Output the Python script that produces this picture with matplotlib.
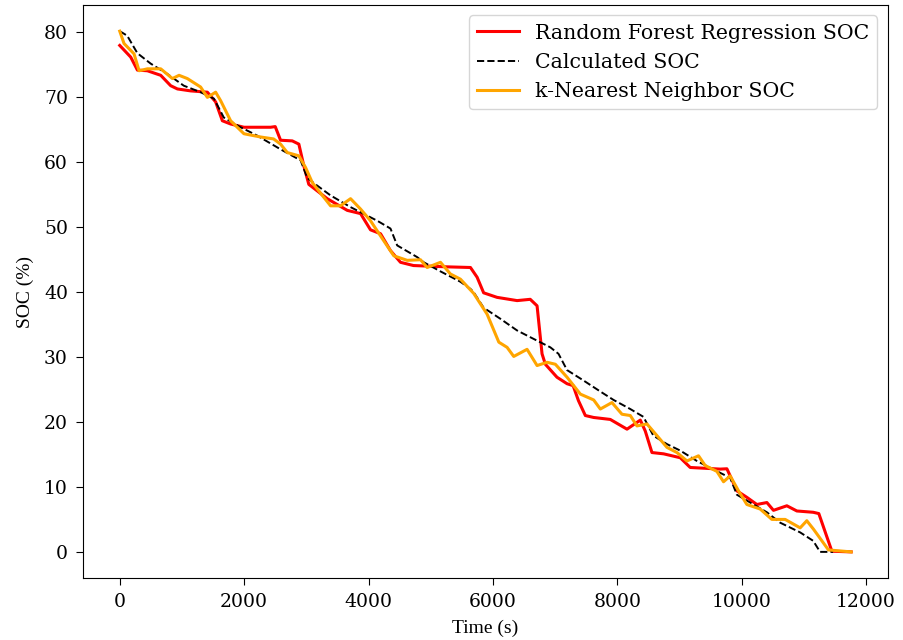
import matplotlib
matplotlib.use('Agg')
import matplotlib.pyplot as plt

# Calculated SOC (dashed reference)
calc_t = [0, 120, 284, 498, 766, 1030, 1300, 1515, 1673, 1944, 2212, 2586, 2908, 3015,
          3120, 3390, 3711, 4140, 4353, 4461, 4782, 4888, 5157, 5478, 5639, 5690, 5851,
          6120, 6389, 6655, 6924, 7055, 7192, 7456, 7727, 7940, 8209, 8420, 8580, 8798,
          9012, 9280, 9545, 9815, 9923, 10137, 10405, 10618, 10940, 11150, 11260, 11470]
calc_soc = [80.2, 79.5, 76.8, 75.2, 73.6, 71.8, 70.8, 69.8, 66.9, 65.4, 64.1, 62.0, 60.3, 57.6,
            56.8, 54.9, 53.1, 51.0, 49.8, 47.2, 45.4, 44.6, 43.2, 41.6, 40.5, 40.0, 37.6,
            35.9, 34.1, 32.8, 31.5, 30.5, 28.0, 26.4, 24.7, 23.4, 22.0, 20.8, 17.9, 16.6,
            15.6, 14.0, 12.7, 11.4, 8.8, 7.6, 6.1, 4.5, 3.0, 1.7, 0.0, 0.0]

# Random Forest Regression SOC
rf_t = [0, 177, 284, 445, 659, 819, 927, 1140, 1409, 1542, 1650, 1783, 1997, 2426, 2500,
        2586, 2774, 2880, 2961, 3040, 3095, 3336, 3658, 3872, 4032, 4193, 4353, 4514,
        4723, 5264, 5639, 5746, 5851, 6067, 6389, 6600, 6710, 6790, 6843, 7030, 7192,
        7290, 7375, 7486, 7620, 7887, 8156, 8370, 8450, 8557, 8745, 9012, 9172, 9655,
        9762, 9815, 9923, 10083, 10244, 10405, 10511, 10726, 10887, 11150, 11240,
        11450, 11760]
rf_soc = [78.0, 76.2, 74.2, 74.1, 73.4, 71.8, 71.3, 71.0, 70.8, 69.3, 66.4, 65.9, 65.4, 65.4, 65.5,
          63.4, 63.3, 62.8, 59.4, 56.6, 56.2, 54.4, 52.6, 52.1, 49.6, 49.0, 46.4, 44.6,
          44.1, 43.9, 43.8, 42.3, 39.9, 39.2, 38.7, 38.9, 37.9, 30.5, 28.9, 26.9, 25.9,
          25.6, 23.3, 21.0, 20.7, 20.4, 18.9, 20.3, 18.6, 15.3, 15.1, 14.5, 13.0, 12.75,
          12.8, 11.7, 9.4, 8.4, 7.3, 7.6, 6.4, 7.1, 6.3, 6.1, 5.9,
          0.1, 0.0]

# k-Nearest Neighbor SOC
knn_t = [0, 69, 230, 311, 445, 659, 847, 954, 1087, 1300, 1409, 1542, 1622, 1783, 1997,
         2265, 2474, 2586, 2694, 2880, 2988, 3095, 3282, 3390, 3550, 3711, 3872, 4032,
         4246, 4407, 4622, 4835, 4943, 5157, 5317, 5478, 5692, 5907, 6095, 6228, 6335,
         6549, 6710, 6871, 7004, 7192, 7406, 7620, 7727, 7914, 8075, 8209, 8316, 8477,
         8638, 8798, 8959, 9120, 9306, 9413, 9601, 9708, 9815, 9949, 10083, 10297,
         10485, 10699, 10940, 11047, 11154, 11395, 11760]
knn_soc = [80.2, 78.3, 76.7, 74.1, 74.4, 74.4, 72.9, 73.4, 72.9, 71.6, 70.0, 70.8, 69.5, 66.4, 64.4,
           63.9, 63.6, 62.8, 61.5, 61.0, 59.2, 56.9, 54.6, 53.3, 53.3, 54.4, 52.8, 51.0,
           47.9, 45.6, 44.9, 45.0, 43.8, 44.6, 42.8, 42.0, 39.8, 36.6, 32.3, 31.5, 30.1,
           31.2, 28.7, 29.2, 28.9, 26.9, 24.3, 23.4, 22.0, 23.0, 21.2, 21.0, 19.4, 19.7,
           17.9, 16.1, 15.3, 14.0, 14.8, 13.3, 12.4, 10.8, 11.7, 9.4, 7.3, 6.6,
           5.0, 5.0, 3.7, 4.8, 3.5, 0.3, 0.0]

fig, ax = plt.subplots(figsize=(9.04, 6.4), dpi=100)
fig.subplots_adjust(left=0.092, right=0.982, top=0.992, bottom=0.097)

ax.plot(rf_t, rf_soc, color='red', linewidth=2.2, label='Random Forest Regression SOC')
ax.plot(calc_t, calc_soc, color='black', linestyle='--', linewidth=1.4, label='Calculated SOC')
ax.plot(knn_t, knn_soc, color='orange', linewidth=2.2, label='k-Nearest Neighbor SOC')

ax.set_xticks([0, 2000, 4000, 6000, 8000, 10000, 12000])
ax.set_yticks([0, 10, 20, 30, 40, 50, 60, 70, 80])
ax.tick_params(length=5, pad=6)
for lbl in ax.get_xticklabels() + ax.get_yticklabels():
    lbl.set_fontfamily('DejaVu Serif')
    lbl.set_fontsize(13.5)

ax.set_xlabel('Time (s)', fontfamily='Liberation Serif', fontsize=14, labelpad=6)
ax.set_ylabel('SOC (%)', fontfamily='Liberation Serif', fontsize=14, labelpad=7)

ax.legend(loc='upper right', prop={'family': 'DejaVu Serif', 'size': 14.8})

fig.savefig('out.png', dpi=100)
